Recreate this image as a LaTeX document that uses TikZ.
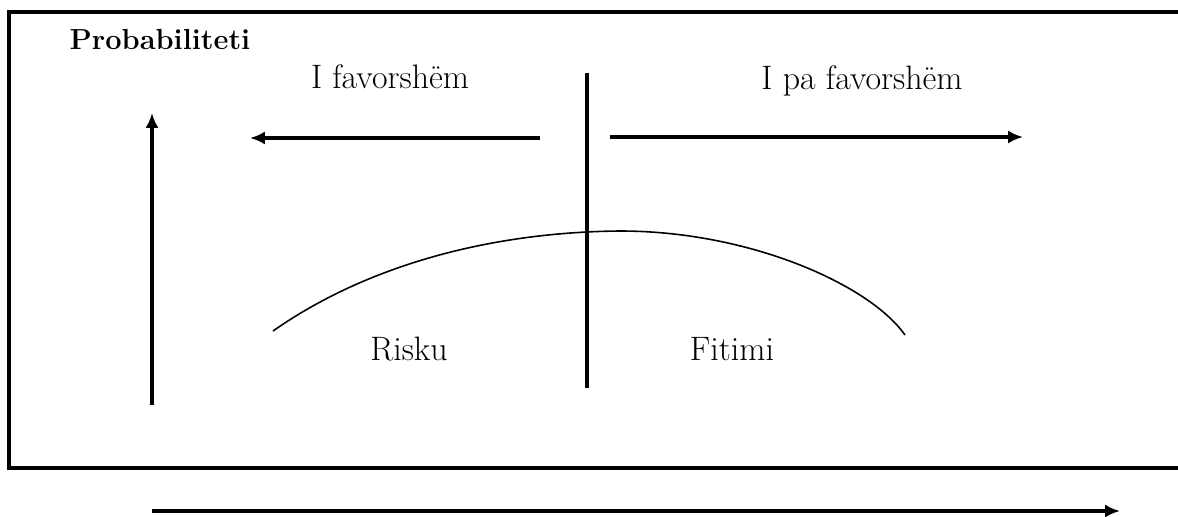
\documentclass[tikz,border=0pt]{standalone}
\usepackage{tikz}
\usetikzlibrary{arrows.meta}
\definecolor{Ink}{HTML}{000000}

\begin{document}
\begin{tikzpicture}[x=0.02cm,y=-0.02cm,>={Latex[length=8.5pt,width=7.5pt]},
    every node/.style={font=\fontsize{19.3}{23}\selectfont,inner sep=0pt},
    axisline/.style={Ink,line width=1.9pt}]
    \clip (0,0) rectangle (1178,517);

    \draw[axisline] (9,12) rectangle (1200,468);

    \node[anchor=base,font=\fontsize{16.5}{20}\selectfont\bfseries] (problabel) at (160,50) {Probabiliteti};
    \node[anchor=base] (favlabel) at (390,89) {I favorsh\"em};
    \node[anchor=base] (unfavlabel) at (862,90) {I pa favorsh\"em};
    \node[anchor=base] (risklabel) at (409,360) {Risku};
    \node[anchor=base] (gainlabel) at (732,360) {Fitimi};

    \coordinate (prob-bottom) at (152,405);
    \coordinate (prob-top) at (152,113);
    \coordinate (fav-start) at (540,138);
    \coordinate (fav-end) at (250,138);
    \coordinate (unfav-start) at (610,137);
    \coordinate (unfav-end) at (1023,137);
    \coordinate (base-start) at (152,511);
    \coordinate (base-end) at (1120,511);
    \coordinate (split-top) at (587,73);
    \coordinate (split-bottom) at (587,388);
    \coordinate (curve-left) at (273,331);
    \coordinate (curve-peak) at (620,231);
    \coordinate (curve-right) at (905,335);

    \draw[axisline,->] (prob-bottom) -- (prob-top);
    \draw[axisline,->] (fav-start) -- (fav-end);
    \draw[axisline,->] (unfav-start) -- (unfav-end);
    \draw[axisline,->] (base-start) -- (base-end);
    \draw[axisline] (split-top) -- (split-bottom);

    \draw[Ink,line width=0.9pt] (curve-left) .. controls (373,261) and (500,232) .. (curve-peak)
      .. controls (750,231) and (870,285) .. (curve-right);
\end{tikzpicture}
\end{document}
